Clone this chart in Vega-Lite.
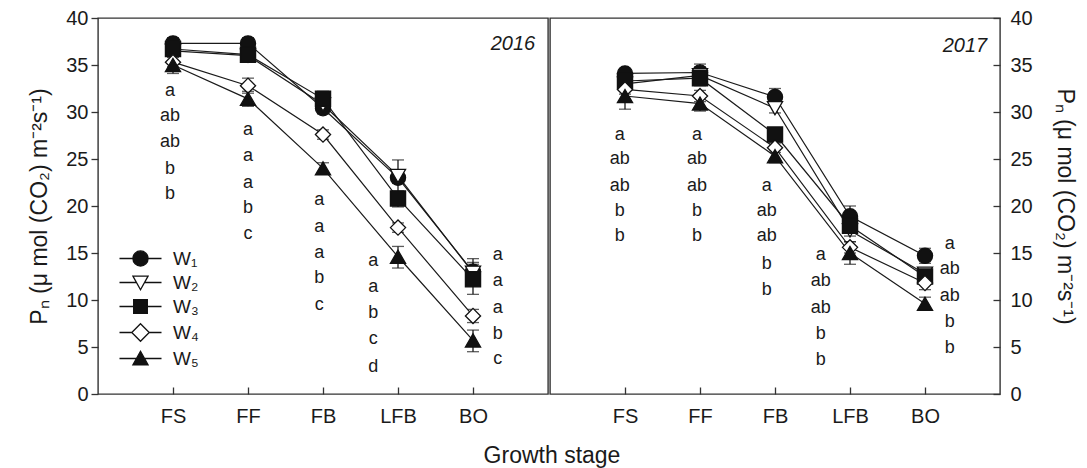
{
  "$schema": "https://vega.github.io/schema/vega-lite/v6.json",
  "padding": {"left": 28, "top": 7, "right": 5, "bottom": 5},
  "background": "white",
  "config": {
    "font": "Liberation Sans",
    "view": {"stroke": "#333", "strokeWidth": 1.4},
    "axis": {"labelFont": "Liberation Sans", "titleFont": "Liberation Sans", "labelColor": "#1a1a1a", "titleColor": "#1a1a1a", "tickColor": "#333", "tickWidth": 1.3, "grid": false, "domain": false, "labelFontSize": 20, "titleFontSize": 23, "titleFontWeight": "normal"},
    "legend": {"labelFont": "Liberation Sans"}
  },
  "datasets": {
    "pts": [
      {"year": 2016, "series": "W₁", "x": 1, "y": 37.3, "lo": 36.7, "hi": 37.9},
      {"year": 2016, "series": "W₂", "x": 1, "y": 36.5, "lo": 36.0, "hi": 37.0},
      {"year": 2016, "series": "W₃", "x": 1, "y": 36.7, "lo": 36.2, "hi": 37.2},
      {"year": 2016, "series": "W₄", "x": 1, "y": 35.3, "lo": 34.8, "hi": 35.8},
      {"year": 2016, "series": "W₅", "x": 1, "y": 35.0, "lo": 34.1, "hi": 35.9},
      {"year": 2016, "series": "W₁", "x": 2, "y": 37.3, "lo": 36.7, "hi": 37.9},
      {"year": 2016, "series": "W₂", "x": 2, "y": 36.0, "lo": 35.5, "hi": 36.5},
      {"year": 2016, "series": "W₃", "x": 2, "y": 36.1, "lo": 35.6, "hi": 36.6},
      {"year": 2016, "series": "W₄", "x": 2, "y": 32.8, "lo": 32.0, "hi": 33.6},
      {"year": 2016, "series": "W₅", "x": 2, "y": 31.4, "lo": 30.6, "hi": 32.2},
      {"year": 2016, "series": "W₁", "x": 3, "y": 30.4, "lo": 29.8, "hi": 31.0},
      {"year": 2016, "series": "W₂", "x": 3, "y": 30.8, "lo": 30.2, "hi": 31.4},
      {"year": 2016, "series": "W₃", "x": 3, "y": 31.4, "lo": 30.6, "hi": 32.2},
      {"year": 2016, "series": "W₄", "x": 3, "y": 27.6, "lo": 27.1, "hi": 28.1},
      {"year": 2016, "series": "W₅", "x": 3, "y": 24.0, "lo": 23.4, "hi": 24.6},
      {"year": 2016, "series": "W₁", "x": 4, "y": 23.0, "lo": 22.4, "hi": 23.6},
      {"year": 2016, "series": "W₂", "x": 4, "y": 23.2, "lo": 21.5, "hi": 24.9},
      {"year": 2016, "series": "W₃", "x": 4, "y": 20.8, "lo": 19.9, "hi": 21.6},
      {"year": 2016, "series": "W₄", "x": 4, "y": 17.7, "lo": 17.2, "hi": 18.2},
      {"year": 2016, "series": "W₅", "x": 4, "y": 14.6, "lo": 13.4, "hi": 15.7},
      {"year": 2016, "series": "W₁", "x": 5, "y": 13.0, "lo": 12.0, "hi": 14.0},
      {"year": 2016, "series": "W₂", "x": 5, "y": 12.9, "lo": 12.0, "hi": 13.8},
      {"year": 2016, "series": "W₃", "x": 5, "y": 12.2, "lo": 10.6, "hi": 14.4},
      {"year": 2016, "series": "W₄", "x": 5, "y": 8.3, "lo": 7.6, "hi": 9.0},
      {"year": 2016, "series": "W₅", "x": 5, "y": 5.7, "lo": 4.5, "hi": 6.8},
      {"year": 2017, "series": "W₁", "x": 1, "y": 34.1, "lo": 33.7, "hi": 34.5},
      {"year": 2017, "series": "W₂", "x": 1, "y": 33.0, "lo": 32.5, "hi": 33.5},
      {"year": 2017, "series": "W₃", "x": 1, "y": 33.3, "lo": 32.8, "hi": 33.8},
      {"year": 2017, "series": "W₄", "x": 1, "y": 32.4, "lo": 31.9, "hi": 32.9},
      {"year": 2017, "series": "W₅", "x": 1, "y": 31.7, "lo": 30.3, "hi": 33.1},
      {"year": 2017, "series": "W₁", "x": 2, "y": 34.2, "lo": 33.6, "hi": 34.8},
      {"year": 2017, "series": "W₂", "x": 2, "y": 33.9, "lo": 32.8, "hi": 35.1},
      {"year": 2017, "series": "W₃", "x": 2, "y": 33.6, "lo": 33.0, "hi": 34.2},
      {"year": 2017, "series": "W₄", "x": 2, "y": 31.7, "lo": 31.1, "hi": 32.3},
      {"year": 2017, "series": "W₅", "x": 2, "y": 30.9, "lo": 30.1, "hi": 31.7},
      {"year": 2017, "series": "W₁", "x": 3, "y": 31.6, "lo": 30.7, "hi": 32.5},
      {"year": 2017, "series": "W₂", "x": 3, "y": 30.4, "lo": 29.9, "hi": 30.9},
      {"year": 2017, "series": "W₃", "x": 3, "y": 27.6, "lo": 27.1, "hi": 28.1},
      {"year": 2017, "series": "W₄", "x": 3, "y": 26.2, "lo": 25.7, "hi": 26.7},
      {"year": 2017, "series": "W₅", "x": 3, "y": 25.3, "lo": 24.6, "hi": 26.0},
      {"year": 2017, "series": "W₁", "x": 4, "y": 18.9, "lo": 17.8, "hi": 20.0},
      {"year": 2017, "series": "W₂", "x": 4, "y": 17.4, "lo": 16.8, "hi": 18.0},
      {"year": 2017, "series": "W₃", "x": 4, "y": 17.9, "lo": 17.3, "hi": 18.5},
      {"year": 2017, "series": "W₄", "x": 4, "y": 15.6, "lo": 15.0, "hi": 16.2},
      {"year": 2017, "series": "W₅", "x": 4, "y": 15.0, "lo": 13.8, "hi": 16.2},
      {"year": 2017, "series": "W₁", "x": 5, "y": 14.7, "lo": 13.9, "hi": 15.5},
      {"year": 2017, "series": "W₂", "x": 5, "y": 12.8, "lo": 12.2, "hi": 13.4},
      {"year": 2017, "series": "W₃", "x": 5, "y": 12.5, "lo": 11.9, "hi": 13.1},
      {"year": 2017, "series": "W₄", "x": 5, "y": 11.8, "lo": 11.1, "hi": 12.5},
      {"year": 2017, "series": "W₅", "x": 5, "y": 9.6, "lo": 8.9, "hi": 10.3}
    ],
    "letters": [
      {"year": 2016, "x": 0.96, "y": 32.2, "label": "a"},
      {"year": 2016, "x": 0.96, "y": 29.6, "label": "ab"},
      {"year": 2016, "x": 0.96, "y": 26.8, "label": "ab"},
      {"year": 2016, "x": 0.96, "y": 23.9, "label": "b"},
      {"year": 2016, "x": 0.96, "y": 21.3, "label": "b"},
      {"year": 2016, "x": 2.0, "y": 28.1, "label": "a"},
      {"year": 2016, "x": 2.0, "y": 25.3, "label": "a"},
      {"year": 2016, "x": 2.0, "y": 22.5, "label": "a"},
      {"year": 2016, "x": 2.0, "y": 19.75, "label": "b"},
      {"year": 2016, "x": 2.0, "y": 17.0, "label": "c"},
      {"year": 2016, "x": 2.95, "y": 20.6, "label": "a"},
      {"year": 2016, "x": 2.95, "y": 17.8, "label": "a"},
      {"year": 2016, "x": 2.95, "y": 15.0, "label": "a"},
      {"year": 2016, "x": 2.95, "y": 12.3, "label": "b"},
      {"year": 2016, "x": 2.95, "y": 9.5, "label": "c"},
      {"year": 2016, "x": 3.67, "y": 14.1, "label": "a"},
      {"year": 2016, "x": 3.67, "y": 11.35, "label": "a"},
      {"year": 2016, "x": 3.67, "y": 8.6, "label": "b"},
      {"year": 2016, "x": 3.67, "y": 5.8, "label": "c"},
      {"year": 2016, "x": 3.67, "y": 2.9, "label": "d"},
      {"year": 2016, "x": 5.33, "y": 14.8, "label": "a"},
      {"year": 2016, "x": 5.33, "y": 12.0, "label": "a"},
      {"year": 2016, "x": 5.33, "y": 9.2, "label": "a"},
      {"year": 2016, "x": 5.33, "y": 6.4, "label": "b"},
      {"year": 2016, "x": 5.33, "y": 3.7, "label": "c"},
      {"year": 2017, "x": 0.93, "y": 27.6, "label": "a"},
      {"year": 2017, "x": 0.93, "y": 25.0, "label": "ab"},
      {"year": 2017, "x": 0.93, "y": 22.1, "label": "ab"},
      {"year": 2017, "x": 0.93, "y": 19.5, "label": "b"},
      {"year": 2017, "x": 0.93, "y": 16.8, "label": "b"},
      {"year": 2017, "x": 1.96, "y": 27.6, "label": "a"},
      {"year": 2017, "x": 1.96, "y": 25.0, "label": "ab"},
      {"year": 2017, "x": 1.96, "y": 22.1, "label": "ab"},
      {"year": 2017, "x": 1.96, "y": 19.5, "label": "b"},
      {"year": 2017, "x": 1.96, "y": 16.8, "label": "b"},
      {"year": 2017, "x": 2.89, "y": 22.1, "label": "a"},
      {"year": 2017, "x": 2.89, "y": 19.5, "label": "ab"},
      {"year": 2017, "x": 2.89, "y": 16.8, "label": "ab"},
      {"year": 2017, "x": 2.89, "y": 13.8, "label": "b"},
      {"year": 2017, "x": 2.89, "y": 11.1, "label": "b"},
      {"year": 2017, "x": 3.61, "y": 14.8, "label": "a"},
      {"year": 2017, "x": 3.61, "y": 12.0, "label": "ab"},
      {"year": 2017, "x": 3.61, "y": 9.2, "label": "ab"},
      {"year": 2017, "x": 3.61, "y": 6.4, "label": "b"},
      {"year": 2017, "x": 3.61, "y": 3.65, "label": "b"},
      {"year": 2017, "x": 5.33, "y": 16.0, "label": "a"},
      {"year": 2017, "x": 5.33, "y": 13.3, "label": "ab"},
      {"year": 2017, "x": 5.33, "y": 10.4, "label": "ab"},
      {"year": 2017, "x": 5.33, "y": 7.7, "label": "b"},
      {"year": 2017, "x": 5.33, "y": 4.9, "label": "b"}
    ],
    "years": [
      {"year": 2016, "x": 5.83, "y": 37.2, "label": "2016"},
      {"year": 2017, "x": 5.83, "y": 37.0, "label": "2017"}
    ]
  },
  "title": {"text": "Growth stage", "orient": "bottom", "anchor": "middle", "font": "Liberation Sans", "fontSize": 23, "fontWeight": "normal", "color": "#1a1a1a", "offset": 18},
  "spacing": 0,
  "resolve": {"scale": {"x": "independent", "y": "independent", "fill": "independent"}, "legend": {"fill": "independent"}},
  "hconcat": [
    {
      "width": 450,
      "height": 376,
      "layer": [
        {
          "data": {"name": "pts"},
          "transform": [{"filter": "datum.year === 2016"}],
          "mark": {"type": "line", "color": "#1a1a1a", "strokeWidth": 1.2},
          "encoding": {
            "x": {"field": "x", "type": "quantitative", "scale": {"domain": [0, 6]}, "axis": {"values": [1, 2, 3, 4, 5], "labelExpr": "['','FS','FF','FB','LFB','BO'][datum.value]", "title": null, "tickSize": -7, "labelPadding": 19}},
            "y": {"field": "y", "type": "quantitative", "scale": {"domain": [0, 40]}, "axis": {"orient": "left", "values": [0, 5, 10, 15, 20, 25, 30, 35, 40], "tickSize": 7, "labelPadding": 3, "titlePadding": 14, "title": "Pₙ (μ mol (CO₂) m⁻²s⁻¹)"}},
            "detail": {"field": "series"}
          }
        },
        {
          "data": {"name": "pts"},
          "transform": [{"filter": "datum.year === 2016"}],
          "mark": {"type": "rule", "color": "#1a1a1a", "strokeWidth": 1.3},
          "encoding": {
            "x": {"field": "x", "type": "quantitative"},
            "y": {"field": "lo", "type": "quantitative"},
            "y2": {"field": "hi"}
          }
        },
        {
          "data": {"name": "pts"},
          "transform": [{"filter": "datum.year === 2016"}],
          "mark": {"type": "tick", "orient": "horizontal", "color": "#1a1a1a", "size": 12, "thickness": 1.3},
          "encoding": {
            "x": {"field": "x", "type": "quantitative"},
            "y": {"field": "lo", "type": "quantitative"}
          }
        },
        {
          "data": {"name": "pts"},
          "transform": [{"filter": "datum.year === 2016"}],
          "mark": {"type": "tick", "orient": "horizontal", "color": "#1a1a1a", "size": 12, "thickness": 1.3},
          "encoding": {
            "x": {"field": "x", "type": "quantitative"},
            "y": {"field": "hi", "type": "quantitative"}
          }
        },
        {
          "data": {"name": "pts"},
          "transform": [{"filter": "datum.year === 2016"}],
          "mark": {"type": "point", "filled": true, "stroke": "#111", "strokeWidth": 1.3, "size": 230, "opacity": 1},
          "encoding": {
            "x": {"field": "x", "type": "quantitative"},
            "y": {"field": "y", "type": "quantitative"},
            "shape": {"condition": [
              {"test": "datum.series === 'W₁'", "value": "circle"},
              {"test": "datum.series === 'W₂'", "value": "triangle-down"},
              {"test": "datum.series === 'W₃'", "value": "square"},
              {"test": "datum.series === 'W₄'", "value": "diamond"}], "value": "triangle-up"},
            "fill": {"field": "series", "type": "nominal",
              "scale": {"domain": ["W₁", "W₂", "W₃", "W₄", "W₅"], "range": ["#111", "white", "#111", "white", "#111"]},
              "legend": {"title": null, "orient": "none", "legendX": 33, "legendY": 231, "symbolSize": 230, "symbolStrokeWidth": 1.3, "symbolStrokeColor": "#111", "symbolOpacity": 1, "labelFontSize": 19, "labelColor": "#1a1a1a", "labelOffset": 23, "rowPadding": 4, "padding": 0,
                "encode": {"symbols": {"update": {"shape": {"signal": "datum.value === 'W₁' ? 'M-2.77,0H-1M1,0H2.77M1,0A1,1,0,1,1,-1,0A1,1,0,1,1,1,0Z' : datum.value === 'W₂' ? 'M-2.77,0H-0.53M0.53,0H2.77M-1,-0.85L1,-0.85L0,0.95Z' : datum.value === 'W₃' ? 'M-2.77,0H-0.9M0.9,0H2.77M-0.9,-0.9H0.9V0.9H-0.9Z' : datum.value === 'W₄' ? 'M-2.77,0H-1.15M1.15,0H2.77M0,-1.15L1.15,0L0,1.15L-1.15,0Z' : 'M-2.77,0H-0.53M0.53,0H2.77M0,-0.95L1,0.85L-1,0.85Z'"}, "stroke": {"value": "#111"}, "strokeWidth": {"value": 1.3}}}}}}
          }
        },
        {
          "data": {"name": "letters"},
          "transform": [{"filter": "datum.year === 2016"}],
          "mark": {"type": "text", "fontSize": 18, "color": "#1a1a1a", "align": "center", "baseline": "middle"},
          "encoding": {
            "x": {"field": "x", "type": "quantitative"},
            "y": {"field": "y", "type": "quantitative"},
            "text": {"field": "label"}
          }
        },
        {
          "data": {"name": "years"},
          "transform": [{"filter": "datum.year === 2016"}],
          "mark": {"type": "text", "fontSize": 20, "fontStyle": "italic", "color": "#1a1a1a", "align": "right", "baseline": "middle"},
          "encoding": {
            "x": {"field": "x", "type": "quantitative"},
            "y": {"field": "y", "type": "quantitative"},
            "text": {"field": "label"}
          }
        }
      ]
    },
    {
      "width": 450,
      "height": 376,
      "layer": [
        {
          "data": {"name": "pts"},
          "transform": [{"filter": "datum.year === 2017"}],
          "mark": {"type": "line", "color": "#1a1a1a", "strokeWidth": 1.2},
          "encoding": {
            "x": {"field": "x", "type": "quantitative", "scale": {"domain": [0, 6]}, "axis": {"values": [1, 2, 3, 4, 5], "labelExpr": "['','FS','FF','FB','LFB','BO'][datum.value]", "title": null, "tickSize": -7, "labelPadding": 19}},
            "y": {"field": "y", "type": "quantitative", "scale": {"domain": [0, 40]}, "axis": {"orient": "right", "values": [0, 5, 10, 15, 20, 25, 30, 35, 40], "tickSize": -7, "labelPadding": 17, "titlePadding": 20, "title": "Pₙ (μ mol (CO₂) m⁻²s⁻¹)"}},
            "detail": {"field": "series"}
          }
        },
        {
          "data": {"name": "pts"},
          "transform": [{"filter": "datum.year === 2017"}],
          "mark": {"type": "rule", "color": "#1a1a1a", "strokeWidth": 1.3},
          "encoding": {
            "x": {"field": "x", "type": "quantitative"},
            "y": {"field": "lo", "type": "quantitative"},
            "y2": {"field": "hi"}
          }
        },
        {
          "data": {"name": "pts"},
          "transform": [{"filter": "datum.year === 2017"}],
          "mark": {"type": "tick", "orient": "horizontal", "color": "#1a1a1a", "size": 12, "thickness": 1.3},
          "encoding": {
            "x": {"field": "x", "type": "quantitative"},
            "y": {"field": "lo", "type": "quantitative"}
          }
        },
        {
          "data": {"name": "pts"},
          "transform": [{"filter": "datum.year === 2017"}],
          "mark": {"type": "tick", "orient": "horizontal", "color": "#1a1a1a", "size": 12, "thickness": 1.3},
          "encoding": {
            "x": {"field": "x", "type": "quantitative"},
            "y": {"field": "hi", "type": "quantitative"}
          }
        },
        {
          "data": {"name": "pts"},
          "transform": [{"filter": "datum.year === 2017"}],
          "mark": {"type": "point", "filled": true, "stroke": "#111", "strokeWidth": 1.3, "size": 230, "opacity": 1},
          "encoding": {
            "x": {"field": "x", "type": "quantitative"},
            "y": {"field": "y", "type": "quantitative"},
            "shape": {"condition": [
              {"test": "datum.series === 'W₁'", "value": "circle"},
              {"test": "datum.series === 'W₂'", "value": "triangle-down"},
              {"test": "datum.series === 'W₃'", "value": "square"},
              {"test": "datum.series === 'W₄'", "value": "diamond"}], "value": "triangle-up"},
            "fill": {"condition": {"test": "datum.series === 'W₂' || datum.series === 'W₄'", "value": "white"}, "value": "#111"}
          }
        },
        {
          "data": {"name": "letters"},
          "transform": [{"filter": "datum.year === 2017"}],
          "mark": {"type": "text", "fontSize": 18, "color": "#1a1a1a", "align": "center", "baseline": "middle"},
          "encoding": {
            "x": {"field": "x", "type": "quantitative"},
            "y": {"field": "y", "type": "quantitative"},
            "text": {"field": "label"}
          }
        },
        {
          "data": {"name": "years"},
          "transform": [{"filter": "datum.year === 2017"}],
          "mark": {"type": "text", "fontSize": 20, "fontStyle": "italic", "color": "#1a1a1a", "align": "right", "baseline": "middle"},
          "encoding": {
            "x": {"field": "x", "type": "quantitative"},
            "y": {"field": "y", "type": "quantitative"},
            "text": {"field": "label"}
          }
        }
      ]
    }
  ]
}
